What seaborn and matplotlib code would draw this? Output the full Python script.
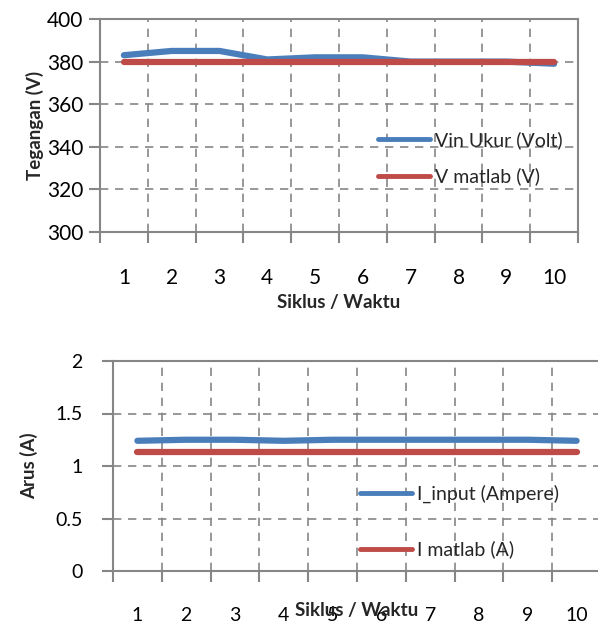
import matplotlib
matplotlib.use("Agg")
import matplotlib.pyplot as plt
import seaborn as sns
import pandas as pd
from matplotlib.ticker import FixedLocator

# Data
siklus = [1, 2, 3, 4, 5, 6, 7, 8, 9, 10]
vin_ukur = [383, 385, 385, 381, 382, 382, 380, 380, 380, 379]
v_matlab = [380, 380, 380, 380, 380, 380, 380, 380, 380, 380]
i_input = [1.24, 1.25, 1.25, 1.24, 1.25, 1.25, 1.25, 1.25, 1.25, 1.24]
i_matlab = [1.13, 1.13, 1.13, 1.13, 1.13, 1.13, 1.13, 1.13, 1.13, 1.13]
x_labels = [str(s) for s in siklus]

sns.set_theme(style="white")
plt.rcParams["font.family"] = ["Lato", "DejaVu Sans"]

BLUE = "#4A7EBB"
RED = "#BE4B48"
GRAY = "#868686"

fig = plt.figure(figsize=(5.98, 6.28), dpi=100)

ax1 = fig.add_axes([100 / 598, (628 - 232) / 628, 478 / 598, 213 / 628])
ax2 = fig.add_axes([113 / 598, (628 - 571) / 628, 488 / 598, 210 / 628])

df_v = pd.DataFrame({"Siklus": siklus, "Vin Ukur (Volt)": vin_ukur, "V matlab (V)": v_matlab})
df_i = pd.DataFrame({"Siklus": siklus, "I_input (Ampere)": i_input, "I matlab (A)": i_matlab})


def style_axes(ax, ylim, yticks, ytick_size, xlabel_pad, ylab_pad):
    ax.set_xlim(0.5, 10.5)
    ax.set_ylim(*ylim)
    ax.set_yticks(yticks)
    ax.xaxis.set_major_locator(FixedLocator(siklus))
    ax.set_xticklabels(x_labels)
    ax.xaxis.set_minor_locator(FixedLocator([s + 0.5 for s in [0] + siklus]))
    ax.tick_params(axis="x", which="major", length=0, pad=xlabel_pad,
                   labelsize=ytick_size, labelcolor="black")
    ax.tick_params(axis="x", which="minor", length=8, width=1.5, color=GRAY,
                   direction="out", bottom=True)
    ax.tick_params(axis="y", which="major", length=8, width=1.5, color=GRAY,
                   direction="out", left=True, pad=ylab_pad,
                   labelsize=ytick_size, labelcolor="black")
    ax.grid(False)
    ax.grid(True, axis="y", which="major", linestyle=(0, (5, 4)), color=GRAY, linewidth=1.2)
    ax.grid(True, axis="x", which="minor", linestyle=(0, (5, 4)), color=GRAY, linewidth=1.2)
    for sp in ax.spines.values():
        sp.set_color(GRAY)
        sp.set_linewidth(1.5)
    ax.set_axisbelow(True)


# Voltage chart
sns.lineplot(data=df_v, x="Siklus", y="Vin Ukur (Volt)", ax=ax1, color=BLUE,
             linewidth=4.5, label="Vin Ukur (Volt)", solid_capstyle="round")
sns.lineplot(data=df_v, x="Siklus", y="V matlab (V)", ax=ax1, color=RED,
             linewidth=4.5, label="V matlab (V)", solid_capstyle="round")
style_axes(ax1, (300, 400), [300, 320, 340, 360, 380, 400], 15, 26, 4)
ax1.set_xlabel("Siklus / Waktu", fontsize=13.5, fontweight="bold", labelpad=4)
ax1.set_ylabel("Tegangan (V)", fontsize=13.5, fontweight="bold", labelpad=2)
leg1 = ax1.legend(loc="upper left", bbox_to_anchor=(0.565, 0.51), frameon=False,
                  fontsize=14, handlelength=2.7, handletextpad=0.25, labelspacing=0.95,
                  borderaxespad=0)
for h in leg1.get_lines():
    h.set_linewidth(3.5)

# Current chart
sns.lineplot(data=df_i, x="Siklus", y="I_input (Ampere)", ax=ax2, color=BLUE,
             linewidth=4.5, label="I_input (Ampere)", solid_capstyle="round")
sns.lineplot(data=df_i, x="Siklus", y="I matlab (A)", ax=ax2, color=RED,
             linewidth=4.5, label="I matlab (A)", solid_capstyle="round")
style_axes(ax2, (0, 2), [0, 0.5, 1, 1.5, 2], 14, 26, 14)
ax2.set_yticklabels(["0", "0.5", "1", "1.5", "2"])
ax2.set_xlabel("Siklus / Waktu", fontsize=13.5, fontweight="bold", labelpad=-16)
ax2.set_ylabel("Arus (A)", fontsize=13.5, fontweight="bold", labelpad=12)
leg2 = ax2.legend(loc="upper left", bbox_to_anchor=(0.49, 0.45), frameon=False,
                  fontsize=14, handlelength=2.7, handletextpad=0.25, labelspacing=1.95,
                  borderaxespad=0)
for h in leg2.get_lines():
    h.set_linewidth(3.5)

fig.savefig("out.png", dpi=100)
